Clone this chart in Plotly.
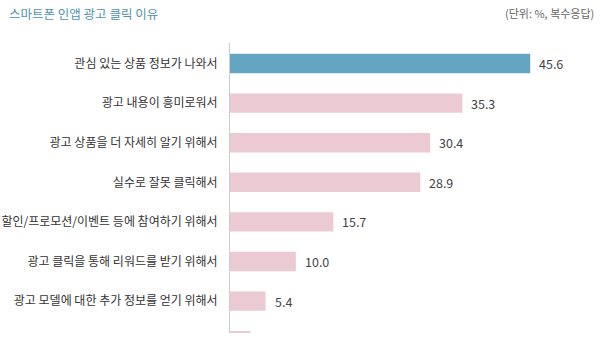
import plotly.graph_objects as go

categories = [
    "관심 있는 상품 정보가 나와서",
    "광고 내용이 흥미로워서",
    "광고 상품을 더 자세히 알기 위해서",
    "실수로 잘못 클릭해서",
    "할인/프로모션/이벤트 등에 참여하기 위해서",
    "광고 클릭을 통해 리워드를 받기 위해서",
    "광고 모델에 대한 추가 정보를 얻기 위해서",
    "기타",
]
values = [45.6, 35.3, 30.4, 28.9, 15.7, 10.0, 5.4, 3.1]
value_labels = ["45.6", "35.3", "30.4", "28.9", "15.7", "10.0", "5.4", ""]

HIGHLIGHT = "#64a6c2"
PINK = "#ebcad4"
colors = [HIGHLIGHT] + [PINK] * (len(values) - 1)

FONT = "Noto Sans CJK KR"

fig = go.Figure()
fig.add_trace(go.Bar(
    x=values,
    y=categories,
    orientation="h",
    marker=dict(color=colors, line=dict(width=0)),
    hoverinfo="skip",
))

for cat, val, lab in zip(categories, values, value_labels):
    if lab:
        fig.add_annotation(
            x=val, y=cat, text=lab, showarrow=False,
            xanchor="left", yanchor="middle", xshift=7,
            font=dict(family=FONT, size=12.5, color="#444444"),
        )

plot_h = 348 - 43 - 15
fig.add_annotation(
    x=-223 / 370, y=1 + (43 - 14) / plot_h, xref="paper", yref="paper",
    xanchor="left", yanchor="middle",
    text="스마트폰 인앱 광고 클릭 이유", showarrow=False,
    font=dict(family=FONT, size=12.5, color="#4f92b2"),
)
fig.add_annotation(
    x=1 - 4 / 370, y=1 + (43 - 13) / plot_h, xref="paper", yref="paper",
    text="(단위: %, 복수응답)", showarrow=False,
    xanchor="right", yanchor="middle",
    font=dict(family=FONT, size=11, color="#666666"),
)

fig.update_layout(
    width=600, height=348,
    margin=dict(l=230, r=0, t=43, b=15),
    paper_bgcolor="white", plot_bgcolor="white",
    bargap=0.51,
    showlegend=False,
    font=dict(family=FONT, color="#333333"),
    xaxis=dict(range=[0, 56.2], visible=False, fixedrange=True),
    yaxis=dict(
        categoryorder="array", categoryarray=categories,
        range=[6.806, -0.518],
        showline=True, linecolor="#cccccc", linewidth=1,
        showgrid=False, zeroline=False,
        ticks="outside", ticklen=9, tickcolor="rgba(0,0,0,0)",
        tickfont=dict(family=FONT, size=12, color="#333333"),
    ),
)

fig.write_html("out.html")
